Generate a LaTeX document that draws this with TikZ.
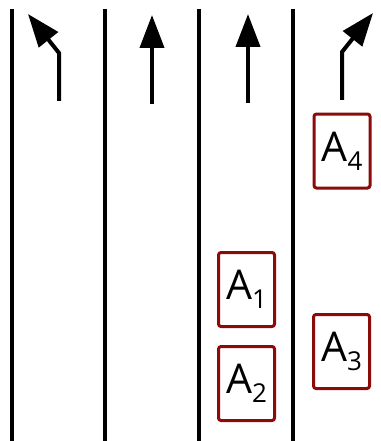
\documentclass[tikz,border=0pt]{standalone}
\usepackage{fontspec}
\setmainfont{Open Sans}
\usetikzlibrary{arrows.meta}
\definecolor{boxred}{HTML}{8B0A0A}
\newcommand{\lbl}[1]{A\raisebox{-9pt}{\fontsize{26}{26}\selectfont #1}}
\begin{document}
\begin{tikzpicture}[x=1pt,y=-1pt,
  lane/.style={line width=3.6pt},
  dirarrow/.style={line width=4pt,-{Triangle[length=33pt,width=24pt]}},
  car/.style={draw=boxred,line width=3pt,rounded corners=2.5pt,minimum width=56pt,minimum height=74pt,inner sep=0pt,font=\fontsize{41}{41}\selectfont}]
\useasboundingbox (0,0) rectangle (380,441);
% lane lines
\foreach \n/\x in {l1/12,l2/105,l3/199,l4/293}{
  \coordinate (\n t) at (\x,9);
  \coordinate (\n b) at (\x,441);
  \draw[lane] (\n t) -- (\n b);
}
% lane arrows
\coordinate (a1s) at (59,101); \coordinate (a1m) at (59,53); \coordinate (a1e) at (28,14);
\draw[dirarrow] (a1s) -- (a1m) -- (a1e);
\coordinate (a2s) at (152,104); \coordinate (a2e) at (152,15);
\draw[dirarrow] (a2s) -- (a2e);
\coordinate (a3s) at (248,103); \coordinate (a3e) at (248,14);
\draw[dirarrow] (a3s) -- (a3e);
\coordinate (a4s) at (342,100); \coordinate (a4m) at (342,52); \coordinate (a4e) at (373,13);
\draw[dirarrow] (a4s) -- (a4m) -- (a4e);
% vehicles
\node[car] (A1) at (246.5,289.5) {\lbl{1}};
\node[car] (A2) at (246.5,383.5) {\lbl{2}};
\node[car] (A3) at (341.5,351.5) {\lbl{3}};
\node[car] (A4) at (342,151) {\lbl{4}};
\end{tikzpicture}
\end{document}
